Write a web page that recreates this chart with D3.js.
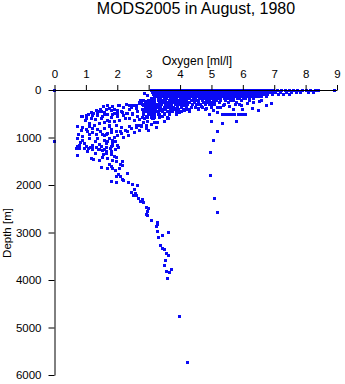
<!DOCTYPE html>
<html>
<head>
<meta charset="utf-8">
<script src="https://cdn.jsdelivr.net/npm/d3@7"></script>
<style>
  html, body { margin: 0; padding: 0; background: #fff; }
  svg { display: block; }
  text { font-family: "Liberation Sans", Arial, Helvetica, sans-serif; fill: #000; }
</style>
</head>
<body>
<svg id="chart" width="345" height="384"></svg>
<script>
// ---- data: [oxygen (ml/l), depth (m)] ----
const title = "MODS2005 in August, 1980";
const xLabel = "Oxygen [ml/l]";
const yLabel = "Depth [m]";
const xTicks = [0, 1, 2, 3, 4, 5, 6, 7, 8, 9];
const yTicks = [0, 1000, 2000, 3000, 4000, 5000, 6000];

// near-surface band, one array of oxygen values per depth level
const bandDepths = [0, 45, 95, 140, 185, 230, 270, 315, 360, 410, 460, 520, 580];
const bandOxygen = [
  [3.08,3.16,3.25,3.33,3.42,3.5,3.59,3.67,3.76,3.84,3.93,4.01,4.1,4.18,4.27,4.35,4.44,4.52,4.61,4.69,4.78,4.86,4.95,5.03,5.12,5.2,5.29,5.37,5.46,5.54,5.63,5.71,5.8,5.88,5.97,6.05,6.14,6.22,6.31,6.39,6.48,6.56,6.65,6.73,6.82,6.9,6.99,7.1,7.22,7.35,7.5,7.62,7.75,7.9,8.02,8.15,8.3,8.42,8.92],
  [3.12,3.2,3.29,3.37,3.46,3.54,3.63,3.71,3.8,3.88,3.97,4.05,4.14,4.22,4.31,4.39,4.48,4.56,4.65,4.73,4.82,4.9,4.99,5.07,5.16,5.24,5.33,5.41,5.5,5.58,5.67,5.75,5.84,5.92,6.01,6.09,6.18,6.26,6.35,6.43,6.52,6.6,6.69,6.77,6.86,6.94,7.05,7.2,7.4,7.55,7.7,7.85,8.1,8.25],
  [3.15,3.23,3.32,3.4,3.49,3.57,3.66,3.74,3.83,3.91,4.0,4.08,4.17,4.25,4.34,4.42,4.51,4.59,4.68,4.76,4.85,4.93,5.02,5.1,5.19,5.27,5.36,5.44,5.53,5.61,5.7,5.78,5.87,5.95,6.04,6.12,6.21,6.29,6.38,6.46,6.55,6.63,6.72,6.8,6.95,7.15,7.3,7.5],
  [3.2,3.28,3.37,3.45,3.54,3.62,3.71,3.79,3.88,3.96,4.05,4.13,4.22,4.3,4.39,4.47,4.56,4.64,4.73,4.81,4.9,4.98,5.07,5.15,5.24,5.32,5.41,5.49,5.58,5.66,5.75,5.83,5.92,6.0,6.09,6.17,6.26,6.34,6.43,6.51,6.6,6.75],
  [3.1,3.19,3.3,3.38,3.5,3.58,3.7,3.78,3.9,4.0,4.1,4.2,4.3,4.42,4.5,4.62,4.7,4.8,4.9,5.0,5.1,5.2,5.3,5.4,5.52,5.6,5.7,5.82,5.9,6.02,6.1,6.2,6.35],
  [2.75,2.85,3.0,3.09,3.18,3.3,3.38,3.45,3.55,3.65,3.75,3.85,3.95,4.05,4.13,4.2,4.35,4.42,4.5,4.6,4.7,4.85,4.95,5.05,5.15,5.3,5.45,5.6,5.7,5.95,6.2],
  [2.7,2.9,3.05,3.13,3.2,3.35,3.43,3.52,3.6,3.7,3.8,3.88,3.95,4.05,4.15,4.22,4.3,4.45,4.6,4.75,4.85,5.0,5.1,5.25,5.55,5.8],
  [2.95,3.05,3.14,3.25,3.33,3.42,3.55,3.63,3.72,3.85,3.93,4.02,4.15,4.25,4.4,4.55,4.65,4.8,4.95,5.1,5.4,5.9],
  [2.9,3.0,3.1,3.2,3.3,3.38,3.5,3.6,3.7,3.8,3.92,4.05,4.2,4.35,4.5,4.7,5.0,5.3],
  [2.9,3.02,3.12,3.22,3.35,3.45,3.55,3.68,3.8,3.95,4.1,4.3,4.6],
  [2.9,3.0,3.1,3.22,3.32,3.45,3.6,3.75,3.9,4.05,4.3],
  [2.85,2.98,3.1,3.2,3.35,3.5,3.65,3.9],
  [2.8,2.95,3.08,3.2,3.35,3.6]
];

// scattered upper-ocean points
const upperPoints = [
  [0,0],[0,1090],[2.88,70],[2.95,110],
  [2.92,259],[3.0,246],[2.81,301],[2.71,280],[2.55,316],[2.39,330],[2.3,301],[2.44,373],[2.6,385],[2.79,400],[2.92,385],
  [2.05,316],[1.91,400],[1.75,385],[1.65,421],[1.46,400],[1.33,442],[1.19,469],[1.09,512],[0.9,562],[1.01,596],
  [1.22,541],[1.38,541],[1.54,562],[1.7,512],[1.86,526],[2.02,490],[2.18,469],[2.33,490],[2.49,526],[2.65,562],
  [2.87,596],[2.97,562],[2.26,596],[2.07,632],[1.91,667],[1.75,653],[1.59,680],[1.43,701],[1.27,737],[1.11,773],
  [0.9,794],[0.74,773],[0.85,863],[1.01,842],[1.22,821],[1.38,842],[1.59,821],[1.75,773],[1.96,737],[2.12,794],
  [2.39,773],[2.6,794],[2.76,773],[2.92,794],[2.33,878],[2.12,912],[1.96,878],[1.7,912],[1.54,933],[1.33,947],
  [1.11,933],[0.9,983],[0.77,947],[0.74,1031],[0.9,1053],[1.11,1031],[1.38,1017],[1.59,1053],[1.75,1017],[1.91,1004],
  [1.65,1122],[1.43,1143],[1.22,1158],[1.01,1194],[0.8,1158],[0.69,1227],[1.81,1194],[2.02,1158],[1.22,1263],
  [1.43,1263],[1.65,1299],[1.81,1299],
  [2.07,316],[2.3,295],[2.44,316],[2.71,280],[2.92,246],[3.03,211],[1.49,455],[1.38,490],[1.81,434],[1.91,490],
  [2.12,455],[2.28,490],[2.49,490],[0.85,562],[1.01,547],[1.17,596],[2.92,562],[3.14,596],[3.35,562],[3.51,667],
  [3.62,610],[2.71,737],[2.92,737],[2.6,737],[2.09,884],[1.69,632],[1.75,737],[1.82,842],[1.66,947],[1.85,1053],
  [1.69,1090],[1.78,1230],
  [2.77,232],[2.93,295],[3.09,253],[3.25,337],[3.41,295],[3.57,358],[3.73,316],[3.89,379],[4.04,337],[4.2,400],
  [4.36,358],[4.52,295],[4.68,337],[4.84,379],[5.0,316],[5.19,358],[5.38,316],[5.57,337],[5.76,295],[5.96,316],
  [6.15,274],[6.34,253],[6.53,232],
  [2.83,463],[3.03,421],[3.18,484],[3.34,442],[3.5,505],[3.66,463],[3.82,421],[3.98,484],[4.14,442],[4.3,400],
  [2.8,589],[2.96,653],[3.12,610],[3.28,674],[3.44,568],[3.6,610],
  [2.77,737],[2.93,800],[3.09,716],[3.25,779],
  [5.35,511],[5.45,511],[5.55,511],[5.65,511],[5.75,511],[5.85,511],[5.95,511],[6.05,511],[6.1,511],
  [6.0,406],[6.5,442],[6.74,330],[6.9,280],[6.58,217],[5.8,653],[5.35,695],[4.94,526],[4.82,400],[5.05,440],
  [5.2,470],[5.7,420],[6.3,380],
  [1.0,650],[1.12,700],[1.3,620],[1.5,600],[1.6,520],[1.8,580],[2.0,560],[2.2,540],[2.4,600],[2.55,650],[2.7,620],
  [2.85,680],[1.05,880],[1.2,900],[1.45,880],[1.6,960],[1.8,900],[2.0,960],[2.25,850],[2.45,820],[2.55,900],
  [2.7,850],[0.82,1100],[0.95,1120],[1.3,1080],[1.5,1180],[1.85,1120],[1.95,1080],[2.2,1000],[2.35,950],
  [1.55,350],[1.7,330],[1.85,340],[2.2,360],[2.6,330],[2.85,330],[1.25,500],[1.4,460],[1.6,470],[2.0,430],
  [2.4,420],[2.65,450],[2.85,500],[3.1,520],[3.3,520],[3.45,440],[3.7,360],[3.95,420],[4.1,330],[4.45,250],
  [4.6,380],[4.9,260],[3.2,680],[3.0,860],[1.05,1300],[1.3,1330],[1.55,1350],[1.9,1390],[2.1,1560]
];

// offshore profile near 5 ml/l
const offshoreProfile = [
  [5.0,653],[5.19,884],[5.06,1053],[4.98,1326],[4.98,1804],[5.1,2280],[5.19,2574]
];

// deep profile
const deepProfile = [
  [0.74,1194],[0.8,1227],[0.96,1242],[1.09,1242],[1.15,1215],[1.2,1242],[1.35,1215],[1.41,1263],[1.52,1284],
  [1.59,1263],[1.65,1215],[1.84,1172],[2.05,1215],[1.94,1257],[0.74,1383],[1.65,1332],[1.81,1354],[1.54,1417],
  [1.7,1452],[1.86,1474],[1.96,1425],[1.98,1495],[2.18,1495],[1.17,1438],[1.25,1459],[2.18,1593],[1.49,1636],
  [1.7,1663],[1.86,1663],[1.94,1705],[2.07,1663],[1.81,1615],[2.33,1753],[1.98,1825],[2.09,1825],[2.18,1880],
  [1.81,1930],[1.96,1951],[2.2,1909],[2.37,1943],[2.47,1985],[2.65,2006],[2.55,2090],[2.44,2153],[2.57,2174],
  [2.6,2217],[2.52,2231],[2.68,2294],[2.81,2301],[2.74,2351],[2.84,2372],[2.92,2469],[3.0,2499],[2.97,2562],
  [2.92,2617],[2.96,2646],[3.1,2751],[3.29,2785],[3.27,2842],[3.24,2878],[3.29,2983],[3.64,2995],[3.43,3059],
  [3.3,3101],[3.39,3284],[3.45,3332],[3.49,3353],[3.58,3452],[3.64,3480],[3.53,3579],[3.51,3705],[3.74,3774],
  [3.56,3831],[3.66,3837],[3.59,3964],[3.98,4764],[4.25,5740],
  [1.17,1438],[1.44,1480],[1.75,1560],[2.03,1770]
];

// ---- chart ----
const svg = d3.select("#chart");
const x = d3.scaleLinear().domain([0, 9]).range([54.5, 337]);
const y = d3.scaleLinear().domain([0, 6000]).range([90, 375]);

const pts = [];
bandDepths.forEach((d, i) => bandOxygen[i].forEach(o => pts.push([o, d])));
upperPoints.forEach(p => pts.push(p));
offshoreProfile.forEach(p => pts.push(p));
deepProfile.forEach(p => pts.push(p));

svg.append("g").attr("shape-rendering", "crispEdges")
  .selectAll("rect").data(pts).join("rect")
  .attr("x", d => Math.round(x(d[0]) - 1.5))
  .attr("y", d => Math.round(y(d[1]) - 1.5))
  .attr("width", 3).attr("height", 3)
  .attr("fill", "#0a0af5");

const xAxis = svg.append("g").attr("transform", "translate(0,90)")
  .call(d3.axisTop(x).tickValues(xTicks).tickFormat(d3.format("d")).tickSize(5).tickSizeOuter(0).tickPadding(7));
const yAxis = svg.append("g").attr("transform", "translate(54.5,0)")
  .call(d3.axisLeft(y).tickValues(yTicks).tickFormat(d3.format("d")).tickSize(6).tickSizeOuter(0).tickPadding(7));
[xAxis, yAxis].forEach(g => {
  g.selectAll("text").attr("font-size", 11.5).attr("font-family", "Liberation Sans, Arial, sans-serif");
  g.selectAll("line,path").attr("stroke", "#000").attr("stroke-width", 1);
});

svg.append("text").attr("x", 196).attr("y", 14).attr("text-anchor", "middle")
  .attr("font-size", 16).text(title);
svg.append("text").attr("x", 197).attr("y", 65).attr("text-anchor", "middle")
  .attr("font-size", 12).text(xLabel);
svg.append("text").attr("transform", "translate(11,233) rotate(-90)").attr("text-anchor", "middle")
  .attr("font-size", 11.5).text(yLabel);
</script>
</body>
</html>
